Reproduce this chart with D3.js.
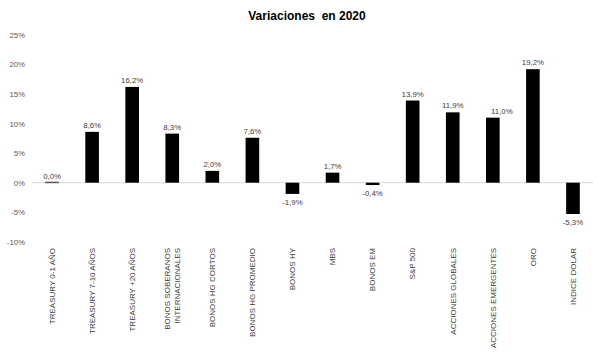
<!DOCTYPE html>
<html><head><meta charset="utf-8">
<script src="https://cdn.jsdelivr.net/npm/d3@7"></script>
<style>body{margin:0;background:#fff}svg{display:block}text{font-family:"Liberation Sans",Arial,sans-serif}</style>
</head><body>
<script>
const categories = ["TREASURY 0-1 AÑO","TREASURY 7-10 AÑOS","TREASURY +20 AÑOS","BONOS SOBERANOS\nINTERNACIONALES","BONOS HG CORTOS","BONOS HG PROMEDIO","BONOS HY","MBS","BONOS EM","S&P 500","ACCIONES GLOBALES","ACCIONES EMERGENTES","ORO","INDICE DOLAR"];
const values = [0.0, 8.6, 16.2, 8.3, 2.0, 7.6, -1.9, 1.7, -0.4, 13.9, 11.9, 11.0, 19.2, -5.3];
const yTicks = [-10, -5, 0, 5, 10, 15, 20, 25];
const title = "Variaciones  en 2020";

const W = 598, H = 357;
const svg = d3.select("body").append("svg").attr("width", W).attr("height", H);
const x = d3.scaleBand().domain(categories).range([32, 593]).paddingInner(0.66).paddingOuter(0.33);
const y = d3.scaleLinear().domain([-10, 25]).range([241.8, 34.9]);

svg.append("text").attr("x", 307).attr("y", 19.5).attr("text-anchor", "middle")
  .style("white-space", "pre")
  .attr("font-size", 12).attr("font-weight", "bold").attr("fill", "#000").text(title);

// y axis labels
const yAxis = d3.axisLeft(y).tickValues(yTicks).tickSize(0).tickPadding(0)
  .tickFormat(d => d + "%");
const ga = svg.append("g").attr("transform", "translate(25,0)").call(yAxis);
ga.select(".domain").remove();
ga.selectAll("text").attr("font-size", 7.8).attr("fill", "#595959").attr("font-family", '"Liberation Sans",Arial,sans-serif');

// zero line
svg.append("line").attr("x1", 32).attr("x2", 593).attr("y1", y(0)).attr("y2", y(0))
  .attr("stroke", "#d9d9d9").attr("stroke-width", 1);

const fmt = v => v.toFixed(1).replace(".", ",") + "%";
const labelDx = [0, 0, 0, 0, 0, 0, 0, 0, 0, 0, 0, 9, 0, 0];

svg.append("g").selectAll("rect").data(values).join("rect")
  .attr("x", (d, i) => x(categories[i]))
  .attr("width", x.bandwidth())
  .attr("y", d => d >= 0 ? y(d) - (d === 0 ? 1 : 0) : y(0))
  .attr("height", d => Math.max(1.5, Math.abs(y(d) - y(0))))
  .attr("fill", d => d === 0 ? "#595959" : "#000");

svg.append("g").selectAll("text").data(values).join("text")
  .attr("x", (d, i) => x(categories[i]) + x.bandwidth() / 2 + labelDx[i])
  .attr("y", d => d >= 0 ? y(d) - 4 : y(d) + 11)
  .attr("text-anchor", "middle").attr("font-size", 7.8).attr("fill", "#404040")
  .text(fmt);

// x labels rotated
const gx = svg.append("g");
categories.forEach((c, i) => {
  const lines = c.split("\n");
  const cx = x(c) + x.bandwidth() / 2;
  const n = lines.length;
  lines.forEach((ln, j) => {
    const off = (j - (n - 1) / 2) * 10;
    gx.append("text")
      .attr("transform", `translate(${cx + off + 2.8},248) rotate(-90)`)
      .attr("text-anchor", "end").attr("font-size", 8).attr("fill", "#404040")
      .text(ln);
  });
});
</script>
</body></html>
